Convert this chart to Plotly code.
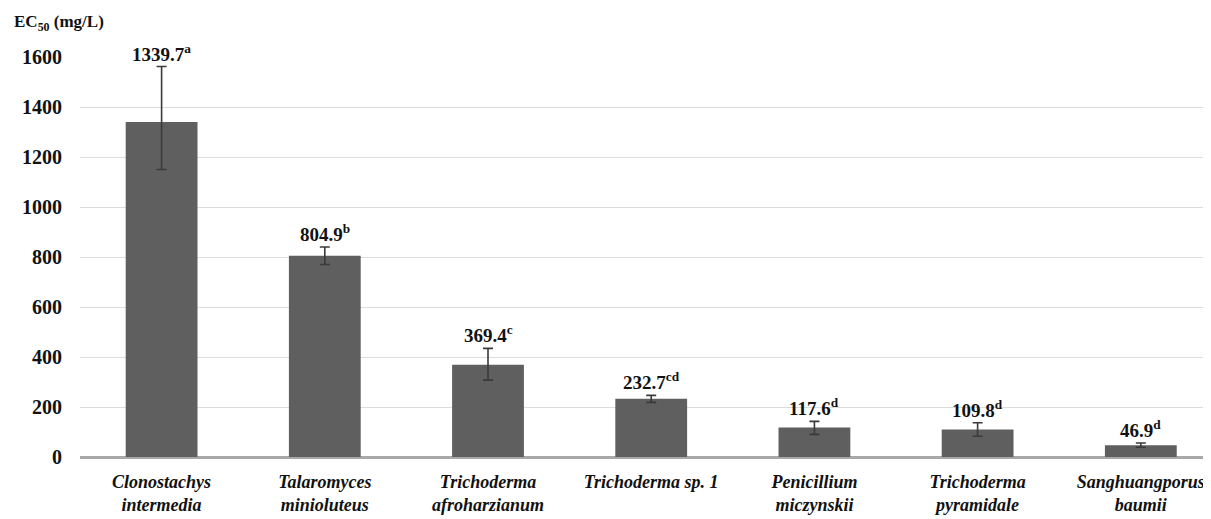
import plotly.graph_objects as go

categories = ["Clonostachys<br>intermedia", "Talaromyces<br>minioluteus", "Trichoderma<br>afroharzianum",
              "Trichoderma sp. 1", "Penicillium<br>miczynskii", "Trichoderma<br>pyramidale",
              "Sanghuangporus<br>baumii"]
values = [1339.7, 804.9, 369.4, 232.7, 117.6, 109.8, 46.9]
err_plus = [222, 35, 65, 14, 25, 27, 9]
err_minus = [190, 35, 62, 14, 27, 27, 8]
letters = ["a", "b", "c", "cd", "d", "d", "d"]
y_ticks = [0, 200, 400, 600, 800, 1000, 1200, 1400, 1600]

FONT = "Liberation Serif"
W, H = 1203, 511
ML, MT, MB = 72, 49, 62

fig = go.Figure()
fig.add_trace(go.Bar(
    x=categories, y=values,
    marker=dict(color="#5f5f5f", line=dict(width=0)),
    error_y=dict(type="data", symmetric=False, array=err_plus, arrayminus=err_minus,
                 color="#3a3a3a", thickness=1.6, width=5),
    width=0.44,
    hoverinfo="skip",
))

for c, v, e, l in zip(categories, values, err_plus, letters):
    fig.add_annotation(x=c, y=v + e, text=f"<b>{v:.1f}<sup>{l}</sup></b>",
                       showarrow=False, yanchor="bottom", yshift=0,
                       font=dict(family=FONT, size=19, color="#111111"))

fig.add_annotation(xref="paper", yref="paper", x=(4 - ML) / (W - ML), y=1.0, xanchor="left",
                   yanchor="top", yshift=MT - 2, text="<b>EC<sub>50</sub> (mg/L)</b>", showarrow=False,
                   font=dict(family=FONT, size=17, color="#111111"))

fig.update_layout(
    width=W, height=H,
    margin=dict(l=ML, r=0, t=MT, b=MB, pad=0),
    paper_bgcolor="white", plot_bgcolor="white",
    showlegend=False,
    xaxis=dict(range=[-0.5, 6.43], showgrid=False, showline=False, zeroline=False,
               tickfont=dict(family=FONT, size=18, color="#111111", style="italic", weight="bold"),
               ticks="", ticklabelstandoff=12),
    yaxis=dict(range=[0, 1600], tickvals=y_ticks, showgrid=True, gridcolor="#dcdcdc", gridwidth=1,
               zeroline=True, zerolinecolor="#a8a8a8", zerolinewidth=3, showline=False,
               tickfont=dict(family=FONT, size=20, color="#111111", weight="bold"),
               ticks="", ticklabelstandoff=17),
)

fig.write_html("out.html")
